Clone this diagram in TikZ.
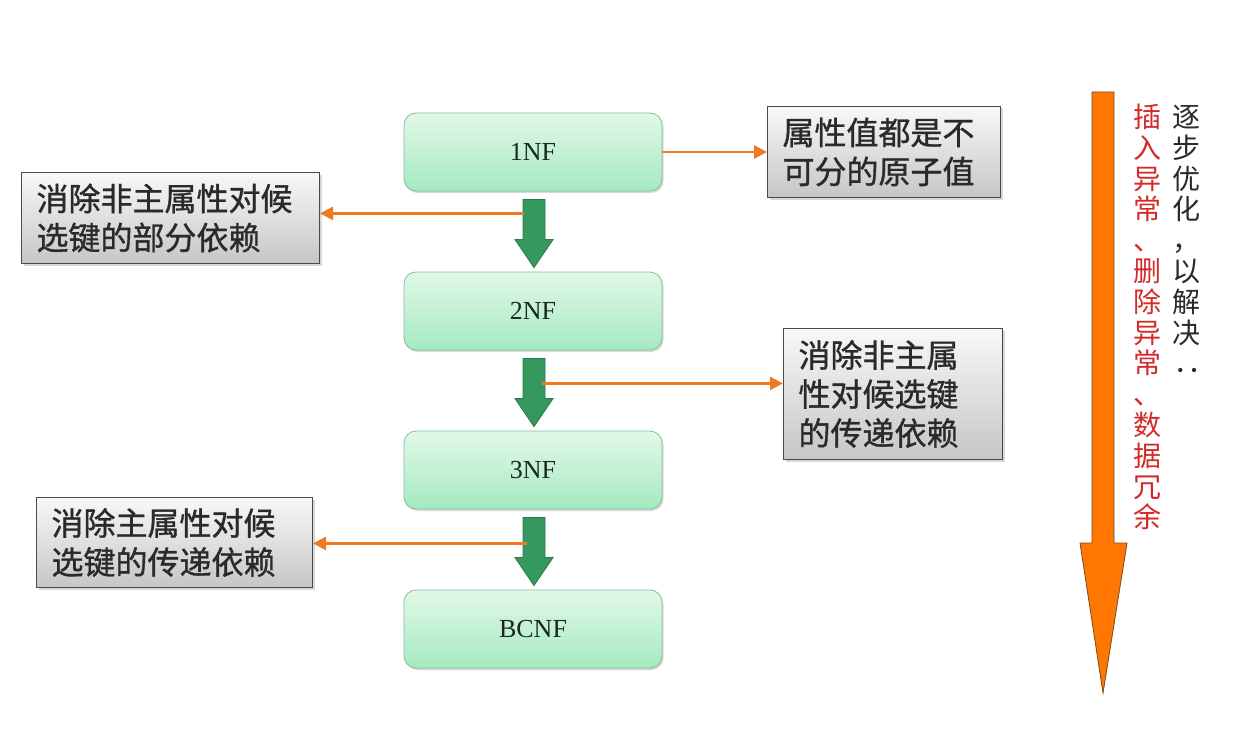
\documentclass[tikz,border=0pt]{standalone}
\usepackage{fontspec}
\setmainfont{Liberation Serif}
\newfontfamily\cjk{Noto Sans CJK SC}
\newfontfamily\cjkb[FakeBold=1]{Noto Sans CJK SC}
\usetikzlibrary{shadows,calc,arrows.meta}
\definecolor{nftop}{HTML}{E2F8E8}
\definecolor{nfbot}{HTML}{A4EAC0}
\definecolor{nfborder}{HTML}{84BE98}
\definecolor{nftext}{HTML}{1A281E}
\definecolor{gtop}{HTML}{F8F8F8}
\definecolor{gbot}{HTML}{C6C6C6}
\definecolor{gborder}{HTML}{4A4A4A}
\definecolor{gtext}{HTML}{2A2A2A}
\definecolor{garrowfill}{HTML}{35985F}
\definecolor{garrowdraw}{HTML}{287A4A}
\definecolor{oline}{HTML}{F07A22}
\definecolor{bigfill}{HTML}{FF7700}
\definecolor{bigdraw}{HTML}{7A4A1A}
\definecolor{vred}{HTML}{D42A2A}
\definecolor{vblack}{HTML}{2A2A2A}
\begin{document}
\begin{tikzpicture}[x=1pt,y=-1pt,
  nfbox/.style={draw=nfborder, line width=0.8pt, rounded corners=12pt,
    top color=nftop, bottom color=nfbot, minimum width=258pt, minimum height=78pt,
    font=\fontsize{26}{30}\selectfont, text=nftext,
    drop shadow={shadow xshift=1.5pt, shadow yshift=-2pt, opacity=0.3}},
  gbox/.style={draw=gborder, line width=1pt, top color=gtop, bottom color=gbot,
    align=left, inner xsep=15pt, inner ysep=0pt, anchor=north west,
    font=\cjkb\fontsize{32}{39}\selectfont, text=gtext,
    drop shadow={shadow xshift=2pt, shadow yshift=-2pt, opacity=0.3}},
  garrow/.style={fill=garrowfill, draw=garrowdraw, line width=0.8pt},
  oarrow/.style={draw=oline, line width=2.5pt, -{Triangle[length=13pt,width=13pt]}},
  bigarrow/.style={fill=bigfill, draw=bigdraw, line width=0.8pt},
  vtext/.style={font=\cjk\fontsize{28}{28}\selectfont, inner sep=0pt,
    text width=28pt, align=center, text height=24.5pt, text depth=3.5pt}
]
\useasboundingbox (0,0) rectangle (1238,733);
\fill[white] (0,0) rectangle (1238,733);

% normal form boxes
\node[nfbox] (n1) at (533,152) {1NF};
\node[nfbox] (n2) at (533,311) {2NF};
\node[nfbox] (n3) at (533,470) {3NF};
\node[nfbox] (n4) at (533,629) {BCNF};

% explanation boxes
\node[gbox, text width=268pt, minimum height=91pt] (L1) at (21,172) {消除非主属性对候\\选键的部分依赖};
\node[gbox, text width=203pt, minimum height=91pt] (R1) at (767,106) {属性值都是不\\可分的原子值};
\node[gbox, text width=189pt, minimum height=131pt] (R2) at (783,328) {消除非主属\\性对候选键\\的传递依赖};
\node[gbox, text width=246pt, minimum height=90pt] (L2) at (36,497) {消除主属性对候\\选键的传递依赖};

% green down arrows
\foreach \a/\b/\k in {n1/n2/1, n2/n3/2, n3/n4/3} {
  \coordinate (s\k) at ($(\a.south)+(1,8)$);
  \coordinate (t\k) at ($(\b.north)+(1,-4)$);
  \draw[garrow] ($(s\k)+(-11,0)$) -- ($(s\k)+(11,0)$) -- ($(t\k)+(11,-28)$)
    -- ($(t\k)+(19,-28)$) -- (t\k) -- ($(t\k)+(-19,-28)$) -- ($(t\k)+(-11,-28)$) -- cycle;
}

% orange arrows
\coordinate (o2) at ($(s1)+(-10,14)$);
\coordinate (o3) at ($(s2)+(8,25)$);
\coordinate (o4) at ($(s3)+(-7,26)$);
\draw[oarrow] (n1.east) -- (R1.west |- n1.east);
\draw[oarrow] (o2) -- (L1.east |- o2);
\draw[oarrow] (o3) -- (R2.west |- o3);
\draw[oarrow] (o4) -- (L2.east |- o4);

% big orange arrow
\coordinate (BT) at (1103,693);
\draw[bigarrow] (1092,92) -- (1114,92) -- (1114,543) -- (1127,543) -- (BT)
  -- (1080,543) -- (1092,543) -- cycle;

% vertical text
\foreach \c [count=\i from 0] in {逐,步,优,化,，,以,解,决} {
  \node[vtext, text=vblack] (b\i) at (1186,{117+30.8*\i}) {\c};
}
\node[vtext, text=vblack, rotate=90] (b8) at (1186,363) {：};
\foreach \c [count=\i from 0] in {插,入,异,常,、,删,除,异,常,、,数,据,冗,余} {
  \node[vtext, text=vred] (r\i) at (1147,{117+30.8*\i}) {\c};
}
\end{tikzpicture}
\end{document}
